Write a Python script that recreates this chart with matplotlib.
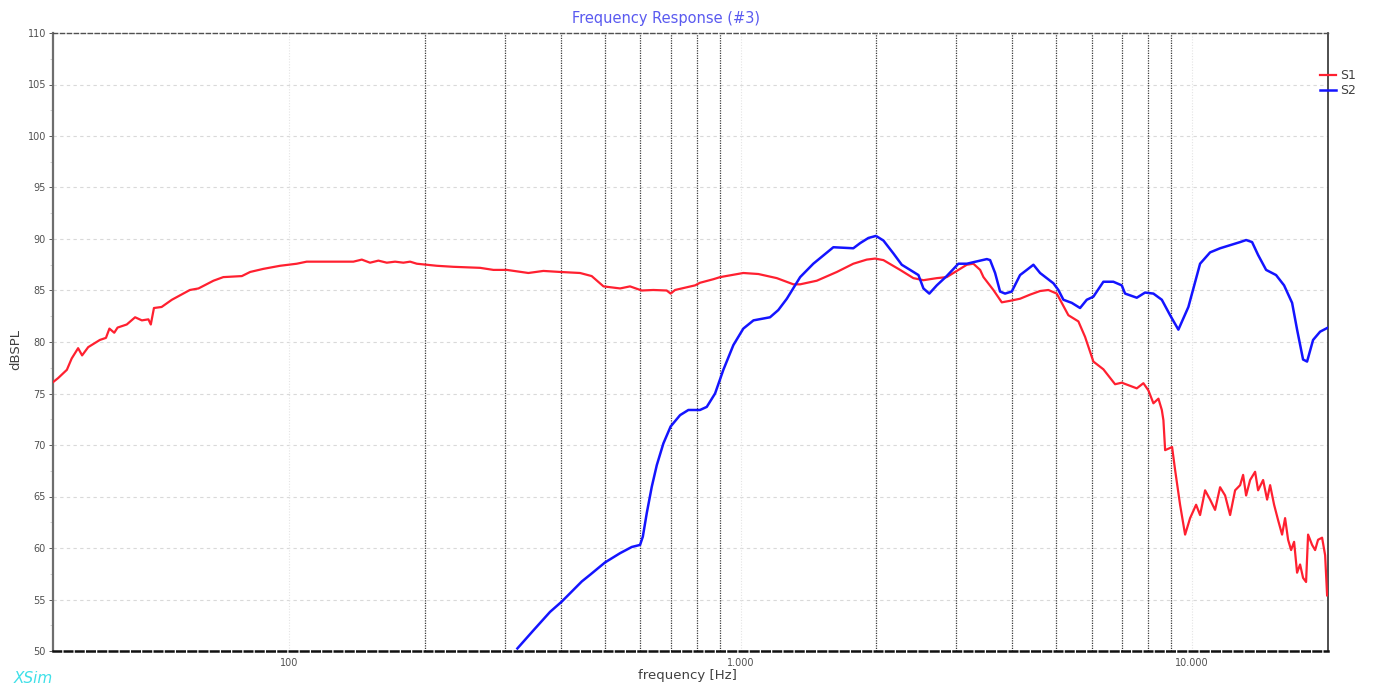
"""Frequency response plot (XSim style), two curves S1 / S2."""

import matplotlib
matplotlib.use("Agg")
import matplotlib.pyplot as plt
from matplotlib.ticker import FixedLocator, NullFormatter, MultipleLocator

# S1 (red)
s1_freq = [30, 30.8, 32.2, 33.0, 34.1, 34.8, 35.9, 38.1, 39.3, 40.0, 41.0, 41.7,
           43.7, 45.6, 47.2, 48.8, 49.4, 50.2, 52.2, 55.0, 60.3, 63.0, 68.0, 71.5,
           78.6, 82.0, 87.7, 95.5, 104, 109.4, 138.8, 144.9, 151.1, 157.7, 164.6,
           171.7, 179.1, 185.4, 191.8, 212.4, 231.1, 264.9, 283.5, 303.5, 338.8,
           365.8, 398.4, 441, 468, 497, 541, 569, 604, 641, 686, 700, 716, 793,
           813, 871, 901, 1014, 1095, 1203, 1309, 1355, 1475, 1634, 1777, 1903,
           1986, 2072, 2256, 2414, 2541, 2720, 2861, 3011, 3170, 3278, 3393, 3451,
           3630, 3789, 3953, 4159, 4377, 4606, 4805, 5015, 5321, 5600, 5794, 6045,
           6361, 6752, 6986, 7543, 7801, 8003, 8210, 8423, 8570, 8640, 8716, 9030,
           9169, 9406, 9650, 9899, 10207, 10416, 10686, 10962, 11244, 11535, 11834,
           12140, 12453, 12776, 12972, 13173, 13444, 13790, 14003, 14365, 14661,
           14888, 15193, 15507, 15825, 16069, 16318, 16569, 16824, 17083, 17346,
           17612, 17884, 18068, 18442, 18727, 19011, 19406, 19709, 19910]
s1_db = [76.1, 76.5, 77.3, 78.4, 79.4, 78.7, 79.5, 80.2, 80.4, 81.3, 80.9, 81.4,
         81.7, 82.4, 82.1, 82.2, 81.7, 83.3, 83.4, 84.1, 85.05, 85.2, 85.95, 86.3,
         86.4, 86.8, 87.1, 87.4, 87.6, 87.8, 87.8, 88.0, 87.7, 87.9, 87.7,
         87.8, 87.7, 87.8, 87.6, 87.4, 87.3, 87.2, 87.0, 87.0, 86.7,
         86.9, 86.8, 86.7, 86.4, 85.4, 85.2, 85.4, 85.0, 85.05, 85.0, 84.7, 85.05, 85.5,
         85.75, 86.1, 86.3, 86.7, 86.6, 86.2, 85.6, 85.6, 85.95, 86.8, 87.6, 88.0,
         88.1, 87.95, 87.0, 86.2, 86.0, 86.2, 86.3, 86.9, 87.5, 87.6, 87.0, 86.3,
         85.05, 83.85, 84.0, 84.2, 84.6, 84.95, 85.05, 84.7, 82.6, 82.0, 80.5, 78.1,
         77.35, 75.9, 76.05, 75.5, 76.0, 75.3, 74.05, 74.5, 73.4, 72.4, 69.5, 69.8,
         67.6, 64.2, 61.3, 62.9, 64.2, 63.2, 65.6, 64.7, 63.7, 65.9, 65.1,
         63.2, 65.6, 66.1, 67.1, 65.1, 66.6, 67.4, 65.6, 66.6, 64.7,
         66.1, 64.2, 62.7, 61.3, 62.9, 60.8, 59.8, 60.6, 57.6, 58.4,
         57.1, 56.7, 61.3, 60.3, 59.8, 60.8, 61.0, 59.3, 55.4]

# S2 (blue)
s2_freq = [320.4, 347.6, 378.5, 401.8, 444.9, 464.2, 501, 541, 574.2, 598.9, 607.4,
           619.8, 635.8, 652.3, 674.5, 700, 734.5, 766.3, 813, 841.6, 878, 915.9,
           963.9, 1014, 1068, 1162, 1212, 1266, 1355, 1449, 1605, 1690, 1777, 1840,
           1919, 1995, 2072, 2180, 2275, 2374, 2477, 2541, 2618, 2720, 2861, 3037,
           3170, 3511, 3570, 3662, 3756, 3853, 3987, 4159, 4304, 4452, 4606, 4930,
           5057, 5188, 5414, 5648, 5844, 6045, 6361, 6693, 6986, 7105, 7543, 7868,
           8210, 8570, 8940, 9325, 9813, 10416, 10962, 11535, 12140, 12776, 13173,
           13580, 14003, 14587, 15346, 15986, 16654, 17083, 17612, 17975, 18535,
           19209, 20000]
s2_db = [50.25, 52.0, 53.8, 54.8, 56.75, 57.4, 58.6, 59.5, 60.1, 60.3, 61.1,
         63.4, 65.95, 68.05, 70.15, 71.8, 72.9, 73.4, 73.4, 73.7, 75.0, 77.3,
         79.7, 81.3, 82.1, 82.4, 83.1, 84.2, 86.3, 87.6, 89.2, 89.15, 89.1, 89.6,
         90.1, 90.3, 89.85, 88.6, 87.5, 87.0, 86.5, 85.2, 84.7, 85.5, 86.4, 87.6,
         87.6, 88.05, 87.95, 86.7, 84.9, 84.7, 84.9, 86.5, 87.0, 87.5, 86.7, 85.7,
         85.05, 84.1, 83.8, 83.3, 84.1, 84.4, 85.85, 85.85, 85.5, 84.7, 84.3, 84.8,
         84.7, 84.1, 82.6, 81.2, 83.4, 87.6, 88.7, 89.1, 89.4, 89.7, 89.9,
         89.7, 88.45, 87.0, 86.5, 85.5, 83.8, 81.2, 78.3, 78.1, 80.2,
         81.0, 81.4]

series_names = ["S1", "S2"]
series_colors = ["#ff2030", "#1414ff"]

# dark dotted marker lines
marker_freqs = [200, 300, 400, 500, 600, 700, 800, 900,
                2000, 3000, 4000, 5000, 6000, 7000, 8000, 9000]

x_ticks = [100, 1000, 10000]
x_tick_labels = ["100", "1.000", "10.000"]
y_ticks = list(range(50, 111, 5))

W, H = 1376, 684
fig = plt.figure(figsize=(W / 100, H / 100), dpi=100)
ax = fig.add_axes([53 / W, 1 - 651 / H, (1328 - 53) / W, (651 - 33) / H])

ax.set_xscale("log")
ax.set_xlim(30, 20000)
ax.set_ylim(50, 110)

# grid
for y in y_ticks:
    ax.axhline(y, color="#d9d9d9", lw=0.8, ls=(0, (3, 3)), zorder=0)
for x in x_ticks:
    ax.axvline(x, color="#e4e4e4", lw=0.8, ls=(0, (1, 1.5)), zorder=0)
for x in marker_freqs:
    ax.axvline(x, color="#3a3a3a", lw=0.9, ls=(0, (1, 1)), zorder=1)

ax.plot(s1_freq, s1_db, color=series_colors[0], lw=1.6, label=series_names[0], zorder=3)
ax.plot(s2_freq, s2_db, color=series_colors[1], lw=1.8, label=series_names[1], zorder=4)

# ticks
ax.xaxis.set_major_locator(FixedLocator(x_ticks))
ax.xaxis.set_minor_locator(FixedLocator([]))
ax.xaxis.set_minor_formatter(NullFormatter())
ax.set_xticklabels(x_tick_labels)
ax.yaxis.set_major_locator(FixedLocator(y_ticks))
ax.yaxis.set_minor_locator(MultipleLocator(2.5))
ax.tick_params(axis="both", which="major", labelsize=7, colors="#404040",
               length=3, width=0.6, pad=2)
ax.tick_params(axis="x", which="major", length=0, pad=5)
ax.tick_params(axis="y", which="minor", length=2, width=0.5, color="#c0c0c0")
for lbl in ax.get_xticklabels() + ax.get_yticklabels():
    lbl.set_color("#505050")

# spines
ax.spines["left"].set_color("#6e6e6e")
ax.spines["left"].set_linewidth(1.6)
ax.spines["right"].set_color("#303030")
ax.spines["right"].set_linewidth(1.2)
ax.spines["top"].set_color("#505050")
ax.spines["top"].set_linewidth(1.0)
ax.spines["top"].set_linestyle((0, (3, 2)))
ax.spines["bottom"].set_color("#111111")
ax.spines["bottom"].set_linewidth(1.8)
ax.spines["bottom"].set_linestyle((0, (3, 1.5)))

# labels
ax.set_xlabel("frequency [Hz]", fontsize=9.5, color="#404040")
ax.xaxis.set_label_coords((687 - 53) / 1275, (651 - 675) / 618)
ax.xaxis.label.set_va("center")
ax.set_ylabel("dBSPL", fontsize=9.5, color="#404040")
ax.yaxis.set_label_coords((16 - 53) / 1275, (651 - 350) / 618)
ax.yaxis.label.set_va("center")
fig.text(666 / W, 1 - 18 / H, "Frequency Response (#3)", color="#5a5af0",
         fontsize=10.5, ha="center", va="center")
fig.text(14 / W, 1 / H, "XSim", color="#40e0e8", fontsize=11, style="italic",
         ha="left", va="baseline")

# legend straddling the right spine
leg = ax.legend(loc="upper left", bbox_to_anchor=(0.9935, 0.941), frameon=False,
                fontsize=9, handlelength=1.3, handletextpad=0.35, labelspacing=0.15,
                borderpad=0, borderaxespad=0)
for t in leg.get_texts():
    t.set_color("#404040")

fig.savefig("out.png", dpi=100)
